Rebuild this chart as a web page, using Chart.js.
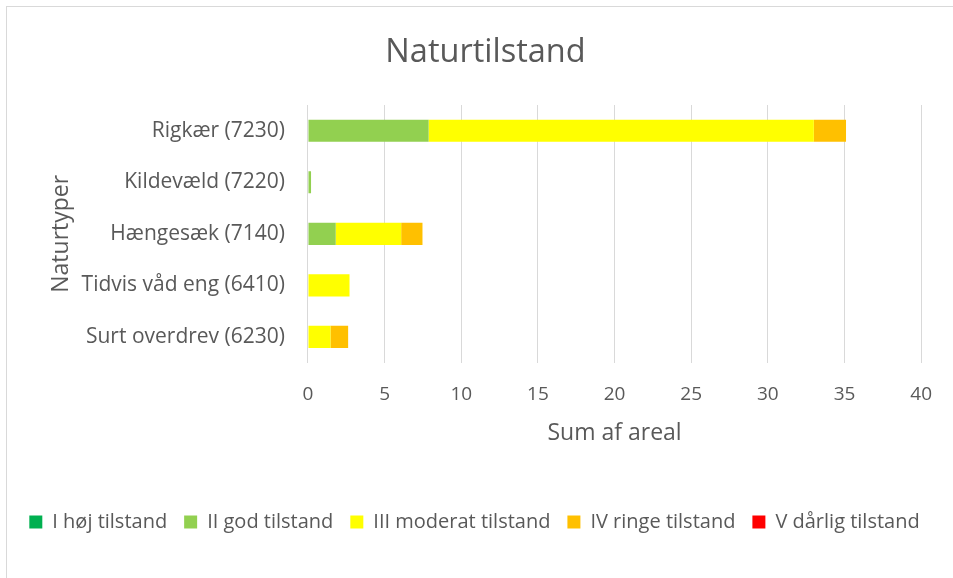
<!DOCTYPE html>
<html>
<head>
<meta charset="utf-8">
<script src="https://cdn.jsdelivr.net/npm/chart.js@4/dist/chart.umd.min.js"></script>
<style>
  html, body { margin: 0; padding: 0; background: #fff; }
  #ramme {
    position: absolute; left: 6px; top: 6px;
    width: 960px; height: 590px;
    border: 1px solid #d9d9d9;
  }
  #holder { position: absolute; left: 0; top: 0; width: 953px; height: 578px; }
</style>
</head>
<body>
<div id="ramme"></div>
<div id="holder"><canvas id="grafik"></canvas></div>
<script>
// Naturtyper og areal fordelt på tilstandsklasser
const naturtyper = ['Rigkær (7230)', 'Kildevæld (7220)', 'Hængesæk (7140)', 'Tidvis våd eng (6410)', 'Surt overdrev (6230)'];
const hoejTilstand = [0, 0, 0, 0, 0];
const godTilstand = [7.87, 0.2, 1.81, 0, 0];
const moderatTilstand = [25.13, 0, 4.27, 2.71, 1.47];
const ringeTilstand = [2.1, 0, 1.39, 0, 1.15];
const daarligTilstand = [0, 0, 0, 0, 0];
const xTicks = [0, 5, 10, 15, 20, 25, 30, 35, 40];

const tekstFarve = '#595959';
const skrift = '"Open Sans", Lato, sans-serif';

function serie(navn, data, farve) {
    return {
        label: navn,
        data: data,
        backgroundColor: farve,
        borderWidth: 0,
        barPercentage: 0.43,
        categoryPercentage: 1
    };
}

// titlen sidder lidt til højre i originalen (rammen er bredere end billedet)
const flytTitel = {
    id: 'flytTitel',
    afterLayout(chart) {
        const t = chart.titleBlock;
        if (t) { t.left += 11; t.right += 11; }
    }
};

const ctx = document.getElementById('grafik').getContext('2d');
new Chart(ctx, {
    type: 'bar',
    data: {
        labels: naturtyper,
        datasets: [
            serie('I høj tilstand', hoejTilstand, '#00B050'),
            serie('II god tilstand', godTilstand, '#92D050'),
            serie('III moderat tilstand', moderatTilstand, '#FFFF00'),
            serie('IV ringe tilstand', ringeTilstand, '#FFC000'),
            serie('V dårlig tilstand', daarligTilstand, '#FF0000')
        ]
    },
    plugins: [flytTitel],
    options: {
        indexAxis: 'y',
        responsive: true,
        maintainAspectRatio: false,
        animation: false,
        layout: { padding: { left: 10, right: 14, top: 33, bottom: 36 } },
        plugins: {
            title: {
                display: true,
                text: 'Naturtilstand',
                color: tekstFarve,
                font: { family: skrift, size: 32.5, weight: 'normal' },
                padding: { top: 0, bottom: 33 }
            },
            legend: {
                position: 'bottom',
                labels: {
                    color: tekstFarve,
                    font: { family: skrift, size: 20 },
                    boxWidth: 13,
                    boxHeight: 13,
                    padding: 17
                }
            },
            tooltip: { enabled: false }
        },
        scales: {
            x: {
                stacked: true,
                min: 0,
                max: 40,
                afterBuildTicks: function(akse) {
                    akse.ticks = xTicks.map(v => ({ value: v }));
                },
                grid: { color: '#d9d9d9', lineWidth: 1, drawTicks: false },
                border: { display: false },
                ticks: {
                    color: tekstFarve,
                    font: { family: skrift, size: 19 },
                    padding: 21
                },
                title: {
                    display: true,
                    text: 'Sum af areal',
                    color: tekstFarve,
                    font: { family: skrift, size: 23 },
                    padding: { top: -8, bottom: 48 }
                }
            },
            y: {
                stacked: true,
                grid: { display: false, drawTicks: false },
                border: { display: false },
                ticks: {
                    color: tekstFarve,
                    font: { family: skrift, size: 21 },
                    padding: 23
                },
                title: {
                    display: true,
                    text: 'Naturtyper',
                    color: tekstFarve,
                    font: { family: skrift, size: 23 },
                    padding: { top: 38, bottom: -17 }
                }
            }
        }
    }
});
</script>
</body>
</html>
